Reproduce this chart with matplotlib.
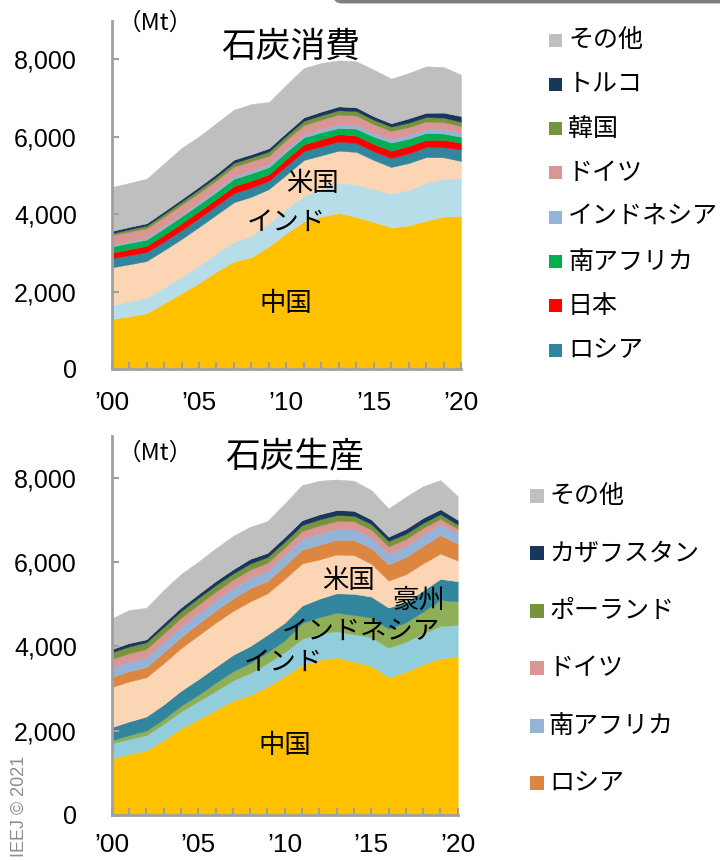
import matplotlib
matplotlib.use('Agg')
import matplotlib.pyplot as plt
from matplotlib.patches import Rectangle, FancyBboxPatch
from matplotlib.transforms import IdentityTransform
from matplotlib.ticker import FuncFormatter

CJK = ['Noto Sans CJK JP', 'DejaVu Sans']
NUM = ['Liberation Sans', 'DejaVu Sans']

years = list(range(2000, 2021))
year_labels = ['’00', '’05', '’10', '’15', '’20']

# ---------------- 石炭消費 (Mt) ----------------
cons_china = [1290, 1360, 1440, 1700, 1960, 2220, 2520, 2780, 2890, 3170, 3510,
              3810, 3940, 4030, 3930, 3800, 3660, 3710, 3830, 3940, 3950]
cons_india = [370, 385, 400, 410, 430, 450, 470, 510, 550, 600, 630,
              670, 720, 780, 840, 850, 870, 920, 975, 980, 975]
cons_us = [965, 960, 950, 960, 970, 1000, 1000, 1020, 1010, 880, 880,
           920, 860, 830, 840, 750, 690, 690, 670, 550, 450]
cons_russia = [240, 235, 230, 225, 225, 230, 230, 235, 235, 215, 225,
               230, 230, 240, 230, 225, 230, 250, 260, 260, 300]
cons_japan = [145, 155, 160, 170, 180, 180, 180, 185, 185, 165, 185,
              175, 185, 190, 190, 190, 190, 190, 185, 190, 172]
cons_safrica = [155, 160, 165, 175, 180, 175, 180, 185, 190, 185, 185,
                180, 180, 160, 180, 190, 210, 190, 180, 165, 155]
cons_indonesia = [40, 40, 40, 45, 50, 55, 60, 65, 70, 75, 75,
                  80, 80, 86, 90, 90, 86, 95, 100, 105, 103]
cons_germany = [255, 255, 250, 250, 250, 245, 240, 250, 240, 220, 230,
                235, 250, 258, 250, 230, 215, 205, 195, 190, 172]
cons_korea = [45, 60, 70, 75, 80, 85, 90, 95, 100, 110, 110,
              112, 112, 112, 115, 115, 112, 115, 115, 115, 112]
cons_turkey = [60, 60, 60, 65, 65, 70, 75, 85, 80, 85, 80,
               90, 95, 100, 95, 90, 86, 110, 110, 130, 146]
cons_other = [1138, 1136, 1153, 1239, 1321, 1302, 1312, 1291, 1298, 1194, 1237,
              1276, 1255, 1190, 1190, 1205, 1153, 1173, 1201, 1179, 1071]

cons_names = ['中国', 'インド', '米国', 'ロシア', '日本', '南アフリカ', 'インドネシア',
              'ドイツ', '韓国', 'トルコ', 'その他']
cons_colors = ['#FFC000', '#B7DEE8', '#FCD5B5', '#31859C', '#FF0000', '#00B050',
               '#95B3D7', '#DA9694', '#77933C', '#17375E', '#BFBFBF']
cons_series = [cons_china, cons_india, cons_us, cons_russia, cons_japan, cons_safrica,
               cons_indonesia, cons_germany, cons_korea, cons_turkey, cons_other]

# ---------------- 石炭生産 (Mt) ----------------
prod_china = [1344, 1447, 1526, 1779, 2055, 2269, 2490, 2711, 2846, 3043, 3296,
              3557, 3676, 3739, 3636, 3542, 3265, 3399, 3573, 3715, 3755]
prod_india = [350, 355, 370, 380, 400, 430, 450, 480, 520, 560, 570,
              620, 630, 620, 650, 680, 700, 710, 735, 770, 750]
prod_indonesia = [80, 90, 105, 115, 135, 150, 195, 215, 240, 255, 275,
                  380, 385, 440, 460, 460, 455, 460, 520, 615, 565]
prod_australia = [310, 325, 335, 345, 355, 370, 375, 390, 400, 420, 420,
                  410, 440, 460, 500, 500, 500, 480, 500, 500, 475]
prod_us = [950, 950, 930, 980, 1010, 1040, 1050, 1040, 1060, 980, 1040,
           1000, 930, 920, 920, 780, 640, 660, 640, 600, 490]
prod_russia = [240, 245, 240, 260, 265, 280, 290, 295, 315, 290, 315,
               325, 350, 350, 355, 370, 385, 410, 420, 440, 400]
prod_safrica = [225, 225, 225, 240, 245, 245, 245, 250, 250, 250, 255,
                255, 260, 255, 260, 252, 250, 252, 255, 255, 245]
prod_germany = [200, 200, 205, 205, 210, 205, 200, 200, 190, 185, 180,
                190, 195, 190, 185, 185, 175, 175, 165, 130, 110]
prod_poland = [160, 160, 160, 160, 160, 160, 155, 145, 145, 135, 135,
               140, 145, 140, 135, 135, 130, 127, 122, 112, 100]
prod_kazakhstan = [75, 80, 70, 85, 87, 87, 97, 98, 110, 100, 110,
                   115, 120, 120, 115, 107, 102, 112, 118, 115, 112]
prod_other = [730, 785, 751, 787, 793, 772, 777, 793, 762, 754, 795,
              834, 798, 726, 713, 697, 671, 764, 754, 693, 563]

prod_names = ['中国', 'インド', 'インドネシア', '豪州', '米国', 'ロシア', '南アフリカ',
              'ドイツ', 'ポーランド', 'カザフスタン', 'その他']
prod_colors = ['#FFC000', '#92CDDC', '#8FAF57', '#31859C', '#FCD5B5', '#DD8640',
               '#95B3D7', '#DA9694', '#77933C', '#17375E', '#BFBFBF']
prod_series = [prod_china, prod_india, prod_indonesia, prod_australia, prod_us,
               prod_russia, prod_safrica, prod_germany, prod_poland,
               prod_kazakhstan, prod_other]

W, H = 720, 860
fig = plt.figure(figsize=(W / 100, H / 100), dpi=100)


def fx(x):
    return x / W


def fy(y):
    return 1 - y / H


AX_GRAY = '#A0A0A0'


def style_axis(ax, xpad):
    ax.set_xlim(2000, 2020)
    ax.set_ylim(0, 9000)
    ax.margins(0)
    for s in ['top', 'right']:
        ax.spines[s].set_visible(False)
    for s in ['left', 'bottom']:
        ax.spines[s].set_color(AX_GRAY)
        ax.spines[s].set_linewidth(2)
    ax.set_yticks([0, 2000, 4000, 6000, 8000])
    ax.yaxis.set_major_formatter(FuncFormatter(lambda v, p: f'{v:,.0f}'))
    ax.set_xticks(years)
    ax.set_xticklabels([year_labels[(y - 2000) // 5] if (y - 2000) % 5 == 0 else ''
                        for y in years])
    ax.tick_params(axis='both', direction='in', length=5, width=1.5, color=AX_GRAY)
    ax.tick_params(axis='y', pad=25, labelsize=18)
    ax.tick_params(axis='x', pad=xpad, labelsize=19)
    for lab in ax.get_xticklabels() + ax.get_yticklabels():
        lab.set_family(NUM)
    ax.set_facecolor('none')


# ---- top chart ----
ax1 = fig.add_axes([fx(111.7), fy(369), fx(461) - fx(111.7), fy(20.7) - fy(369)])
ax1.stackplot(years, *cons_series, colors=cons_colors, linewidth=0.3, edgecolor='face')
style_axis(ax1, 16)

# ---- bottom chart ----
ax2 = fig.add_axes([fx(111.7), fy(815), fx(457.7) - fx(111.7), fy(435.6) - fy(815)])
ax2.stackplot(years, *prod_series, colors=prod_colors, linewidth=0.3, edgecolor='face')
style_axis(ax2, 13)

# titles / units
fig.text(fx(291), fy(47), '石炭消費', ha='center', va='center', fontsize=25, family=CJK)
fig.text(fx(155), fy(23), '（Mt）', ha='center', va='center', fontsize=17, family=CJK)
fig.text(fx(295), fy(457), '石炭生産', ha='center', va='center', fontsize=25, family=CJK)
fig.text(fx(155), fy(453), '（Mt）', ha='center', va='center', fontsize=17, family=CJK)

# in-chart labels
for name, x, y in [('米国', 2011.47, 4806), ('インド', 2009.98, 3798), ('中国', 2009.98, 1680)]:
    ax1.text(x, y, name, ha='center', va='center', fontsize=19, family=CJK)
for name, x, y in [('米国', 2013.66, 5574), ('豪州', 2017.76, 5100),
                   ('インドネシア', 2014.41, 4364), ('インド', 2009.9, 3629),
                   ('中国', 2010.02, 1660)]:
    ax2.text(x, y, name, ha='center', va='center', fontsize=19, family=CJK)

# legends (manual)
top_leg = list(range(3, 11))[::-1]
for i, k in enumerate(top_leg):
    yc = 40 + i * 44.3
    fig.add_artist(Rectangle((fx(549), fy(yc + 6.5)), fx(13), 13 / H,
                             transform=fig.transFigure, color=cons_colors[k], lw=0))
    fig.text(fx(568), fy(yc), cons_names[k], ha='left', va='center',
             fontsize=18, family=CJK)

bot_leg = list(range(5, 11))[::-1]
for i, k in enumerate(bot_leg):
    yc = 496 + i * 57.4
    fig.add_artist(Rectangle((fx(530), fy(yc + 7)), fx(14), 14 / H,
                             transform=fig.transFigure, color=prod_colors[k], lw=0))
    fig.text(fx(549), fy(yc), prod_names[k], ha='left', va='center',
             fontsize=18, family=CJK)

# decorative frame fragment at top right
fig.add_artist(FancyBboxPatch((333, H - 3.5), 420, 40,
                              boxstyle='round,pad=0,rounding_size=9',
                              transform=IdentityTransform(), color='#808080', lw=0))

# copyright
fig.text(fx(19), fy(756), 'IEEJ © 2021', rotation=90, ha='center', va='top',
         fontsize=13, color='#8C8C8C', family=NUM)

fig.savefig('out.png', dpi=100)
